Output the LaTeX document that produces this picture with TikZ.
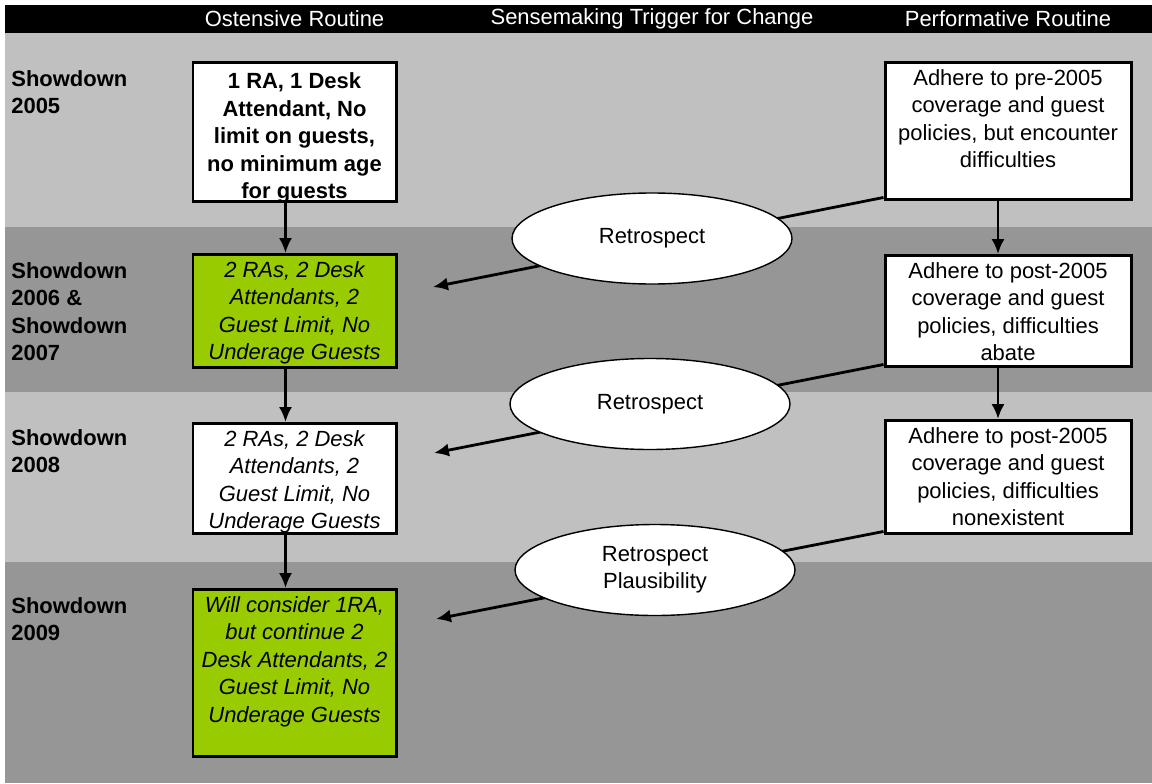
\documentclass[tikz,border=0pt]{standalone}
\usepackage{fontspec}
\setmainfont{Liberation Sans}
\usepackage{xcolor}
\usepackage{tikz}
\usetikzlibrary{arrows,arrows.meta,shapes}
\definecolor{lightband}{RGB}{192,192,192}
\definecolor{darkband}{RGB}{150,150,150}
\definecolor{limegreen}{RGB}{153,204,0}
\newcommand{\cellbox}[4][13pt]{\parbox[c][#2][t]{#3}{\centering\rule{0pt}{#1}#4}}

\begin{document}
\begin{tikzpicture}[
    routine/.style={draw, line width=1.7pt, inner sep=0pt, anchor=north, font=\fontsize{12.5}{15.6}\selectfont},
    trigger/.style={ellipse, draw, fill=white, line width=0.8pt, minimum width=5.6cm, minimum height=1.82cm, inner sep=0pt, align=center, font=\fontsize{12.5}{15.6}\selectfont},
    flow/.style={-{Latex[length=8.5pt,width=7.5pt]}, line width=1.6pt},
    rowlabel/.style={anchor=north west, align=left, inner sep=0pt, font=\fontsize{12.5}{15.6}\selectfont\bfseries},
    header/.style={white, font=\fontsize{12.5}{14}\selectfont}]
    \useasboundingbox (0,0) rectangle (23.04,15.66);

    % Bands
    \fill[black] (0.1,15.0) rectangle (23.04,15.56);
    \fill[lightband] (0.1,11.12) rectangle (23.04,15.0);
    \fill[darkband] (0.1,7.82) rectangle (23.04,11.12);
    \fill[lightband] (0.1,4.42) rectangle (23.04,7.82);
    \fill[darkband] (0.1,0) rectangle (23.04,4.42);

    \node[header] (hOst) at (5.89,15.28) {Ostensive Routine};
    \node[header] (hSense) at (13.04,15.28) {Sensemaking Trigger for Change};
    \node[header] (hPerf) at (20.16,15.28) {Performative Routine};

    \node[rowlabel] (row1) at (0.22,14.26) {Showdown\\2005};
    \node[rowlabel] (row2) at (0.22,10.42) {Showdown\\2006 \&\\Showdown\\2007};
    \node[rowlabel] (row3) at (0.22,7.08) {Showdown\\2008};
    \node[rowlabel] (row4) at (0.22,3.72) {Showdown\\2009};

    % Ostensive column
    \node[routine, fill=white] (ost1) at (5.89,14.44) {\cellbox[15pt]{2.78cm}{4.06cm}{\bfseries 1 RA, 1 Desk\\Attendant, No\\limit on guests,\\no minimum age\\for guests}};
    \node[routine, fill=limegreen] (ost2) at (5.89,10.6) {\cellbox{2.26cm}{4.06cm}{\itshape 2 RAs, 2 Desk\\Attendants, 2\\Guest Limit, No\\Underage Guests}};
    \node[routine, fill=white] (ost3) at (5.89,7.22) {\cellbox{2.2cm}{4.06cm}{\itshape 2 RAs, 2 Desk\\Attendants, 2\\Guest Limit, No\\Underage Guests}};
    \node[routine, fill=limegreen] (ost4) at (5.89,3.9) {\cellbox{3.34cm}{4.06cm}{\itshape Will consider 1RA,\\but continue 2\\Desk Attendants, 2\\Guest Limit, No\\Underage Guests}};

    % Performative column
    \node[routine, fill=white] (perf1) at (20.16,14.44) {\cellbox{2.74cm}{4.92cm}{Adhere to pre-2005\\coverage and guest\\policies, but encounter\\difficulties}};
    \node[routine, fill=white] (perf2) at (20.16,10.58) {\cellbox{2.22cm}{4.92cm}{Adhere to post-2005\\coverage and guest\\policies, difficulties\\abate}};
    \node[routine, fill=white] (perf3) at (20.16,7.28) {\cellbox{2.26cm}{4.92cm}{Adhere to post-2005\\coverage and guest\\policies, difficulties\\nonexistent}};

    \draw[flow] ([xshift=-0.18cm]ost1.south) -- ([xshift=-0.18cm]ost2.north);
    \draw[flow] ([xshift=-0.18cm]ost2.south) -- ([xshift=-0.18cm]ost3.north);
    \draw[flow] ([xshift=-0.18cm]ost3.south) -- ([xshift=-0.18cm]ost4.north);
    \draw[flow] ([xshift=-0.2cm]perf1.south) -- ([xshift=-0.2cm]perf2.north);
    \draw[flow] ([xshift=-0.2cm]perf2.south) -- ([xshift=-0.2cm]perf3.north);

    % Triggers
    \coordinate (back1) at (8.66,9.92);
    \coordinate (back2) at (8.68,6.6);
    \coordinate (back3) at (8.72,3.28);
    \draw[flow] ([yshift=2pt]perf1.south west) -- (back1);
    \draw[flow] ([yshift=2pt]perf2.south west) -- (back2);
    \draw[flow] ([yshift=2pt]perf3.south west) -- (back3);

    \node[trigger] (sense1) at (13.04,10.89) {Retrospect};
    \node[trigger] (sense2) at (13.0,7.58) {Retrospect};
    \node[trigger] (sense3) at (13.1,4.26) {Retrospect\\Plausibility};
\end{tikzpicture}
\end{document}
